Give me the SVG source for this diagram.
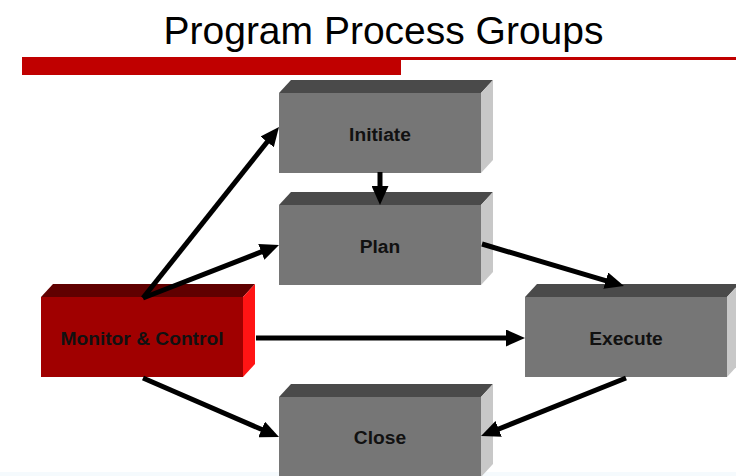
<svg xmlns="http://www.w3.org/2000/svg" width="736" height="476" viewBox="0 0 736 476">
  <style>
    .title { font-family: "Liberation Sans", Arial, sans-serif; font-size: 39px; fill: #000; }
    .label { font-family: "Liberation Sans", Arial, sans-serif; font-size: 19.2px; font-weight: bold; fill: #111; text-anchor: middle; }
    .front { fill: #767676; }
    .top { fill: #4a4a4a; }
    .side { fill: #c8c8c8; }
    .front.red { fill: #a00000; }
    .top.red { fill: #600000; }
    .side.red { fill: #ff1414; }
    .arrow { stroke: #000; stroke-width: 5; fill: none; marker-end: url(#head); }
  </style>
  <defs>
    <marker id="head" markerUnits="userSpaceOnUse" viewBox="0 0 19 17" markerWidth="19" markerHeight="17" refX="6" refY="8.5" orient="auto">
      <path d="M0,0 L19,8.5 L0,17 z" fill="#000"/>
    </marker>
    <!-- 3D block: front 202x80, extruded 12 right and 13 up -->
    <g id="block">
      <polygon class="top" points="0,0 12,-13 214,-13 202,0"/>
      <polygon class="side" points="202,0 214,-13 214,67 202,80"/>
      <rect class="front" x="0" y="0" width="202" height="80"/>
    </g>
  </defs>

  <rect x="0" y="0" width="736" height="476" fill="#fff"/>
  <rect x="0" y="472" width="736" height="4" fill="#f5fafd"/>

  <!-- heading and rule -->
  <text class="title" x="383.5" y="44" text-anchor="middle">Program Process Groups</text>
  <rect x="400" y="57" width="336" height="3" fill="#c00000"/>
  <rect x="22" y="57" width="379" height="18" fill="#c00000"/>

  <g id="initiate">
    <use href="#block" x="279" y="93"/>
    <text class="label" x="380" y="141">Initiate</text>
  </g>
  <g id="plan">
    <use href="#block" x="279" y="205"/>
    <text class="label" x="380" y="253">Plan</text>
  </g>
  <g id="monitor-control">
    <polygon class="top red" points="41,297 53,284 255,284 243,297"/>
    <polygon class="side red" points="243,297 255,284 255,364 243,377"/>
    <rect class="front red" x="41" y="297" width="202" height="80"/>
    <text class="label" x="142" y="345">Monitor &amp; Control</text>
  </g>
  <g id="execute">
    <use href="#block" x="525" y="297"/>
    <text class="label" x="626" y="345">Execute</text>
  </g>
  <g id="close">
    <use href="#block" x="279" y="397"/>
    <text class="label" x="380" y="444">Close</text>
  </g>

  <g id="connectors">
    <line class="arrow" x1="143" y1="298" x2="270.9" y2="137.2"/>
    <line class="arrow" x1="143" y1="298" x2="266.9" y2="249.7"/>
    <line class="arrow" x1="380" y1="172" x2="380" y2="192"/>
    <line class="arrow" x1="482" y1="244" x2="611.5" y2="282.3"/>
    <line class="arrow" x1="256" y1="338" x2="512" y2="338"/>
    <line class="arrow" x1="143" y1="378" x2="267.1" y2="431.8"/>
    <line class="arrow" x1="626" y1="378" x2="493.1" y2="431.2"/>
  </g>
</svg>
